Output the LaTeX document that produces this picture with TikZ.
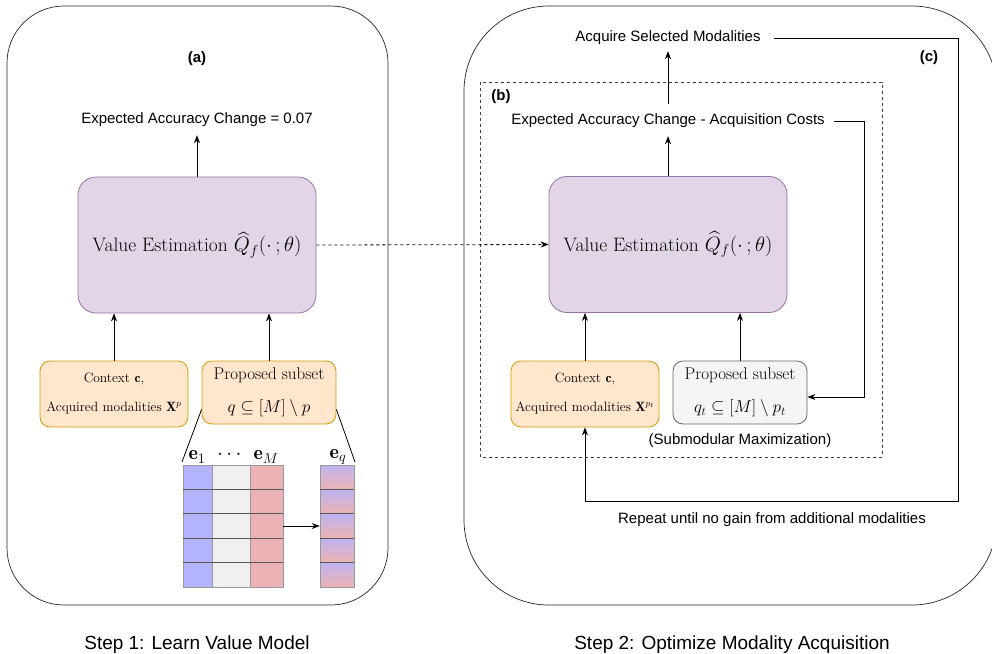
\documentclass[tikz,border=0pt]{standalone}
\usepackage{amsmath,amssymb}
\usepackage{fontspec}
\newfontfamily\sansf{Liberation Sans}
\usetikzlibrary{arrows.meta}
\definecolor{vfill}{HTML}{E1D5E7}
\definecolor{vdraw}{HTML}{9673A6}
\definecolor{ofill}{HTML}{FFE6CC}
\definecolor{odraw}{HTML}{D79B00}
\definecolor{gfill}{HTML}{F5F5F5}
\definecolor{gdraw}{HTML}{666666}
\definecolor{mblue}{HTML}{B3B3FF}
\definecolor{mgrey}{HTML}{F0F0F0}
\definecolor{mred}{HTML}{EBB3B3}
\tikzset{
  panel/.style={draw=black!85, line width=0.7pt, inner sep=0pt},
  valbox/.style={draw=vdraw, fill=vfill, rounded corners=18pt, line width=0.8pt, inner sep=0pt,
    minimum width=238pt, minimum height=136pt, font=\fontsize{19.5}{23}\selectfont},
  ctxbox/.style={draw=odraw, fill=ofill, rounded corners=10pt, line width=0.8pt, inner sep=0pt,
    minimum height=66pt, align=center, font=\fontsize{13.5}{29}\selectfont},
  subbox/.style={rounded corners=10pt, line width=0.8pt, inner sep=0pt,
    minimum height=63pt, align=center, font=\fontsize{17}{33}\selectfont},
  sanslabel/.style={font=\sansf\fontsize{15}{18}\selectfont, inner sep=0pt},
  steplabel/.style={font=\sansf\fontsize{19}{22}\selectfont, inner sep=0pt},
  taglabel/.style={font=\sansf\bfseries\fontsize{15}{17}\selectfont, inner sep=0pt},
  arr/.style={-{Stealth[length=8pt,width=6pt]}, line width=0.8pt},
  plain/.style={line width=0.8pt},
  col/.style={draw=black!40, line width=0.6pt, inner sep=0pt, minimum height=122pt},
  elabel/.style={font=\fontsize{20}{22}\selectfont, inner sep=0pt},
}
\begin{document}
\begin{tikzpicture}[x=1pt,y=-1pt]
\useasboundingbox (0,0) rectangle (992,653);
\fill[white] (0,0) rectangle (992,653);

% outer panels
\node[panel, rounded corners=57pt, minimum width=381pt, minimum height=599pt] (lpanel) at (197.5,305.5) {};
\node[panel, rounded corners=85pt, minimum width=533pt, minimum height=599pt] (rpanel) at (730.5,305.5) {};

% ---------- Left (Step 1) ----------
\node[taglabel] (tagA) at (197,59) {(a)};
\node[sanslabel] (expA) at (197,120) {Expected Accuracy Change = 0.07};
\node[valbox] (lv) at (197,245) {Value Estimation $\widehat{Q}_f(\cdot\,;\theta)$};
\node[ctxbox, minimum width=148pt] (lc) at (114,394) {Context $\mathbf{c}$,\\Acquired modalities $\mathbf{X}^{p}$};
\node[subbox, draw=odraw, fill=ofill, minimum width=134pt] (lp) at (269,392.5) {Proposed subset\\$q\subseteq[M]\setminus p$};

\draw[arr] (lv.north) -- ([yshift=-8pt]expA.south -| lv.north);
\draw[arr] (lc.north -| 114,0) -- (lv.south -| 114,0);
\draw[arr] (lp.north) -- (lv.south -| lp.north);

% matrix
\node[col, fill=mblue, minimum width=29pt] (m1) at (197.5,526) {};
\node[col, fill=mgrey, minimum width=38pt] (m2) at (231,526) {};
\node[col, fill=mred, minimum width=33pt] (m3) at (266.5,526) {};
\node[col, minimum width=34pt] (meq) at (337,526) {};
\foreach \i in {0,...,4} {
  \shade[top color=mblue!80!mred, bottom color=mred] (320,465+\i*24.4) rectangle (354,465+\i*24.4+24.4);
}
\draw[black!40, line width=0.6pt] (320,465) rectangle (354,587);
\foreach \i in {1,...,4} {
  \draw[black!65, line width=0.7pt] (183,465+\i*24.4) -- (283,465+\i*24.4);
  \draw[black!65, line width=0.7pt] (320,465+\i*24.4) -- (354,465+\i*24.4);
}
\node[elabel] (le1) at (197,457) {$\mathbf{e}_1$};
\node[elabel] (ldots) at (231,455) {$\cdots$};
\node[elabel] (leM) at (266,457) {$\mathbf{e}_M$};
\node[elabel] (leq) at (338,457) {$\mathbf{e}_q$};
\coordinate (zl) at (182,462);
\coordinate (zr) at (355,462);
\draw[plain] ([yshift=15pt]lp.south west) -- (zl);
\draw[plain] ([yshift=15pt]lp.south east) -- (zr);
\draw[arr] (m3.east) -- (meq.west);

\node[steplabel] (step1) at (197,645) {Step 1: Learn Value Model};

% ---------- Right (Step 2) ----------
\node[sanslabel] (acq) at (668,38) {Acquire Selected Modalities};
\node[taglabel] (tagC) at (929,58) {(c)};
\draw[dashed, black!75, line width=0.7pt] (480,82) rectangle (882,457);
\node[taglabel] (tagB) at (501,97) {(b)};
\node[sanslabel] (cost) at (668,121) {Expected Accuracy Change - Acquisition Costs};
\node[valbox] (rv) at (668,244.5) {Value Estimation $\widehat{Q}_f(\cdot\,;\theta)$};
\node[ctxbox, minimum width=148pt] (rc) at (585,394) {Context $\mathbf{c}$,\\Acquired modalities $\mathbf{X}^{p_t}$};
\node[subbox, draw=gdraw, fill=gfill, minimum width=134pt] (rp) at (740,392.5) {Proposed subset\\$q_t\subseteq[M]\setminus p_t$};
\node[sanslabel] (subm) at (740,441) {(Submodular Maximization)};
\node[sanslabel] (rep) at (772,520) {Repeat until no gain from additional modalities};

\draw[arr] (rv.north) -- ([yshift=-8pt]cost.south -| rv.north);
\draw[arr] ([yshift=10pt]cost.north -| rv.north) -- ([yshift=-6pt]acq.south -| rv.north);
\draw[arr] (rc.north) -- (rv.south -| rc.north);
\draw[arr] (rp.north) -- (rv.south -| rp.north);

\coordinate (cr) at (864,397);
\draw[arr] ([xshift=9pt]cost.east) -| (cr) -- (cr -| rp.east);
\coordinate (lp1) at (958,501);
\draw[arr] ([xshift=13pt]acq.east) -| (lp1) -| (rc.south);

\draw[arr, dashed] (lv.east) -- (rv.west);

\node[steplabel] (step2) at (732,645) {Step 2: Optimize Modality Acquisition};
\end{tikzpicture}
\end{document}
